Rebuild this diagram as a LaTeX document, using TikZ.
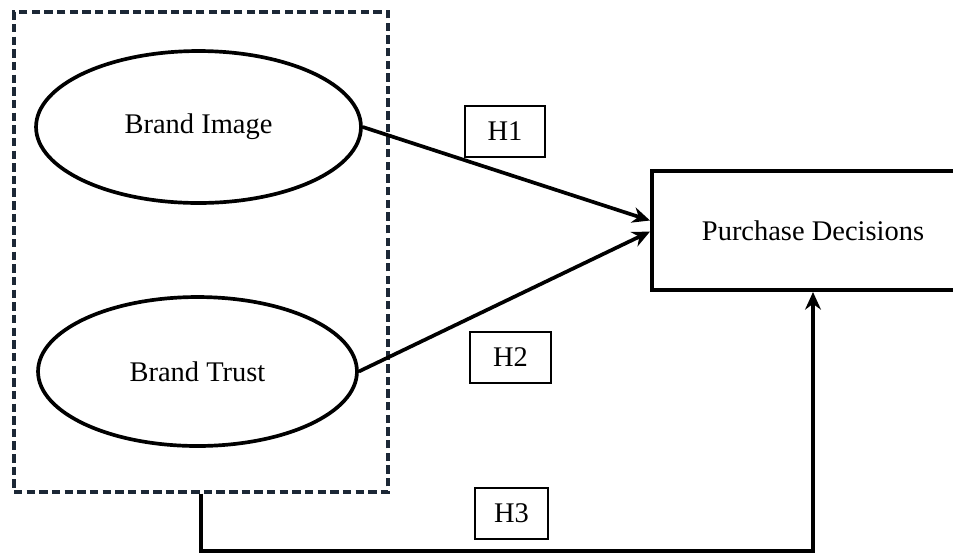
\documentclass[tikz,border=0pt]{standalone}
\usepackage{fontspec}
\setmainfont{Liberation Serif}
\usetikzlibrary{arrows.meta,shapes.geometric}

\definecolor{slate}{RGB}{28,40,54}
\tikzset{
	construct/.style={ellipse, draw, line width=2.1pt, inner sep=0pt},
	outcome/.style={rectangle, draw, line width=2.3pt, minimum width=6.44cm, minimum height=2.38cm},
	hyp/.style={rectangle, draw, line width=1pt, minimum height=1.02cm},
	link/.style={line width=2.1pt, -{Stealth[length=10pt,width=9pt]}},
}

\begin{document}
\begin{tikzpicture}[x=0.02cm, y=-0.02cm, font=\fontsize{16.2}{19}\selectfont]
		\useasboundingbox (0,0) rectangle (953,556);
		% group of the two brand variables
		\node [draw=slate, dash pattern=on 4.8pt off 2.4pt, line width=1.9pt,
		minimum width=7.48cm, minimum height=9.6cm] (grp) at (201,252) {};
		\node [construct, minimum width=6.5cm, minimum height=3.04cm] (bi) at (198.5,127) {Brand Image};
		\node [construct, minimum width=6.38cm, minimum height=2.98cm] (bt) at (197.5,371.5) {Brand Trust};
		\node [outcome] (pd) at (813,230.5) {Purchase Decisions};
		% hypotheses
		\node [hyp, minimum width=1.6cm] (h1) at (505,131.5) {H1};
		\node [hyp, minimum width=1.62cm] (h2) at (510.5,357.5) {H2};
		\node [hyp, minimum width=1.46cm] (h3) at (511.5,513.5) {H3};
		\coordinate (turn) at (813,551);
		\draw [link] (bi.east) -- ([yshift=5.7pt]pd.west);
		\draw [link] (bt.east) -- ([yshift=-0.6pt]pd.west);
		\draw [link] (grp.south) |- (turn) -- (turn |- pd.south);
	\end{tikzpicture}
\end{document}
